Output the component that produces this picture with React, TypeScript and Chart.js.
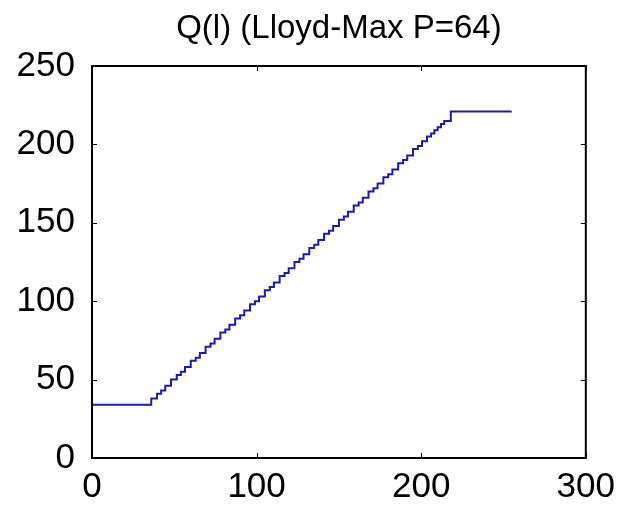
import React, { useEffect, useRef } from "react";
import { Chart, registerables } from "chart.js";

Chart.register(...registerables);

// Reconstruction levels (64)
const levels: number[] = [
  34, 38, 41, 43, 46, 50, 53, 55, 58, 62,
  64, 67, 71, 73, 76, 80, 82, 85, 89, 91,
  94, 98, 100, 103, 107, 109, 112, 116, 118, 121,
  125, 127, 130, 134, 136, 139, 143, 145, 148, 152,
  154, 157, 161, 163, 166, 170, 172, 175, 179, 181,
  184, 188, 190, 193, 197, 199, 202, 205, 207, 209,
  211, 213, 215, 221,
];

// Decision thresholds (63) where the output level changes
const thresholds: number[] = [
  36, 39.5, 42, 44.5, 48, 51.5, 54, 56.5, 60, 63,
  65.5, 69, 72, 74.5, 78, 81, 83.5, 87, 90, 92.5,
  96, 99, 101.5, 105, 108, 110.5, 114, 117, 119.5, 123,
  126, 128.5, 132, 135, 137.5, 141, 144, 146.5, 150, 153,
  155.5, 159, 162, 164.5, 168, 171, 173.5, 177, 180, 182.5,
  186, 189, 191.5, 195, 198, 200.5, 203.5, 206, 208, 210,
  212, 214, 218,
];

const inputStart = 0;
const inputEnd = 255;

const xTicks: number[] = [0, 100, 200, 300];
const yTicks: number[] = [0, 50, 100, 150, 200, 250];

const titleText = "Q(l) (Lloyd-Max P=64)";
const FONT = "'Liberation Sans', Arial, Helvetica, sans-serif";

const boxPlugin = {
  id: "matlabBox",
  afterDraw(chart: any) {
    const { ctx, chartArea: a, scales } = chart;
    const xs = scales.x;
    const ys = scales.y;
    const tl = 5;
    ctx.save();
    ctx.strokeStyle = "#000";
    ctx.lineWidth = 1;
    ctx.beginPath();
    for (const v of xTicks) {
      const px = Math.round(xs.getPixelForValue(v)) + 0.5;
      ctx.moveTo(px, a.bottom);
      ctx.lineTo(px, a.bottom - tl);
      ctx.moveTo(px, a.top);
      ctx.lineTo(px, a.top + tl);
    }
    for (const v of yTicks) {
      const py = Math.round(ys.getPixelForValue(v)) + 0.5;
      ctx.moveTo(a.left, py);
      ctx.lineTo(a.left + tl, py);
      ctx.moveTo(a.right, py);
      ctx.lineTo(a.right - tl, py);
    }
    ctx.stroke();
    ctx.lineWidth = 2;
    ctx.strokeRect(a.left, a.top, a.right - a.left, a.bottom - a.top);
    ctx.restore();
  },
};

export default function App() {
  const ref = useRef<HTMLCanvasElement | null>(null);

  useEffect(() => {
    if (!ref.current) return;
    const points = [
      { x: inputStart, y: levels[0] },
      ...thresholds.map((t, i) => ({ x: t, y: levels[i + 1] })),
      { x: inputEnd, y: levels[levels.length - 1] },
    ];
    const chart = new Chart(ref.current, {
      type: "line",
      data: {
        datasets: [
          {
            data: points,
            stepped: "before",
            borderColor: "#1c1ca6",
            borderWidth: 2,
            pointRadius: 0,
            fill: false,
          },
        ],
      },
      options: {
        animation: false,
        responsive: false,
        maintainAspectRatio: false,
        layout: { padding: { left: 0, right: 36, top: 0, bottom: 0 } },
        plugins: {
          legend: { display: false },
          tooltip: { enabled: false },
          title: {
            display: true,
            text: titleText,
            fullSize: false,
            color: "#000",
            font: { family: FONT, size: 33, weight: "normal", lineHeight: 1.2 },
            padding: { top: 9, bottom: 17.4 },
          },
        },
        scales: {
          x: {
            type: "linear",
            min: 0,
            max: 300,
            afterFit: (s: any) => {
              s.height = 47;
            },
            afterBuildTicks: (s: any) => {
              s.ticks = xTicks.map((v) => ({ value: v }));
            },
            grid: { display: false, drawTicks: false },
            border: { display: false },
            ticks: {
              color: "#000",
              padding: 8,
              maxRotation: 0,
              font: { family: FONT, size: 35 },
            },
          },
          y: {
            type: "linear",
            min: 0,
            max: 250,
            afterFit: (s: any) => {
              s.width = 92;
            },
            afterBuildTicks: (s: any) => {
              s.ticks = yTicks.map((v) => ({ value: v }));
            },
            grid: { display: false, drawTicks: false },
            border: { display: false },
            ticks: {
              color: "#000",
              padding: 17,
              font: { family: FONT, size: 35 },
            },
          },
        },
      },
      plugins: [boxPlugin],
    });
    return () => chart.destroy();
  }, []);

  return (
    <div style={{ position: "absolute", left: 0, top: 0, width: 623, height: 505, background: "#fff" }}>
      <canvas ref={ref} width={623} height={505} style={{ display: "block", width: 623, height: 505 }} />
    </div>
  );
}
